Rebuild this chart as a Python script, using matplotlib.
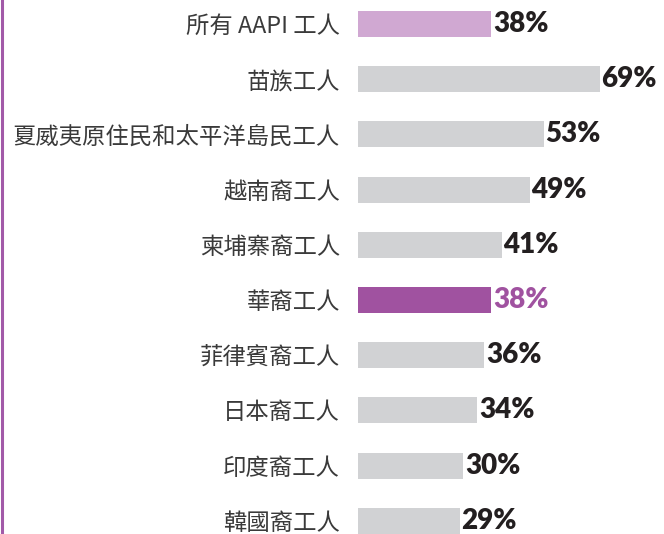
import numpy as np
import matplotlib.pyplot as plt
from matplotlib.lines import Line2D

groups = ['所有 AAPI 工人', '苗族工人', '夏威夷原住民和太平洋島民工人', '越南裔工人',
          '柬埔寨裔工人', '華裔工人', '菲律賓裔工人', '日本裔工人', '印度裔工人', '韓國裔工人']
shares = [38, 69, 53, 49, 41, 38, 36, 34, 30, 29]
value_labels = ['38%', '69%', '53%', '49%', '41%', '38%', '36%', '34%', '30%', '29%']

grey = '#d1d2d4'
light_purple = '#d0a8d2'
purple = '#a052a0'
colors = [light_purple] + [grey] * 4 + [purple] + [grey] * 4
text_colors = ['#231f20'] * 5 + [purple] + ['#231f20'] * 4

W, H = 664, 534
fig = plt.figure(figsize=(W / 100, H / 100), dpi=100)
ax = fig.add_axes([358 / W, 0, 1 - 358 / W, 1])

y = np.arange(len(groups))
ax.barh(y, shares, height=0.47, color=colors, align='center')

# px per percent ~3.5
ax.set_xlim(0, (W - 358) / 3.5)
ax.set_ylim((H - 24) / 55.2, -24 / 55.2)

for i, (v, lab) in enumerate(zip(shares, value_labels)):
    ax.annotate(lab, (v, i), xytext=(1.5, 0), textcoords='offset points',
                ha='left', va='center', fontsize=20, fontweight='heavy',
                family=['Lato', 'DejaVu Sans'], color=text_colors[i])

ax.set_yticks(y)
ax.set_yticklabels(groups, family=['Noto Sans CJK TC', 'DejaVu Sans'],
                   fontsize=16.8, color='#3a3a3a', fontweight='light')
ax.tick_params(axis='y', length=0, pad=13)
ax.set_xticks([])
for s in ax.spines.values():
    s.set_visible(False)

# purple rule down the left edge
fig.add_artist(Line2D([1.5 / W, 1.5 / W], [0, 1], transform=fig.transFigure,
                      color='#a25aa8', linewidth=2.2))

fig.savefig('out.png', dpi=100, facecolor='white')
